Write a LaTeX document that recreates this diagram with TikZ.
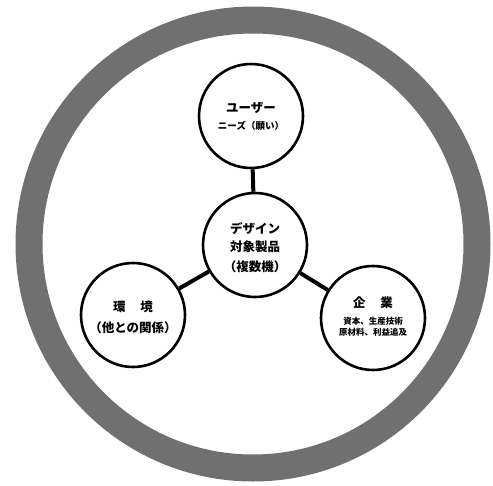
\documentclass[tikz,border=0pt]{standalone}
\usepackage{fontspec}
\newfontfamily\jpfont{Noto Sans CJK JP}
\usetikzlibrary{positioning}

\begin{document}
\begin{tikzpicture}[
    font=\jpfont\bfseries,
    vring/.style   = {draw=black!56, line width=27pt},
    vnode/.style   = {circle, draw=black, line width=2.6pt, fill=white,
                      minimum size=104pt, inner sep=0pt, align=center},
    vlink/.style   = {line width=4pt, draw=black},
    vbig/.style    = {font=\jpfont\bfseries\fontsize{12.5}{18}\selectfont},
    vsmall/.style  = {font=\jpfont\bfseries\fontsize{9.5}{13}\selectfont},
    vtiny/.style   = {font=\jpfont\bfseries\fontsize{8.5}{11}\selectfont},
  ]

  \useasboundingbox (0pt,0pt) rectangle (493pt,-485pt);

  \node[draw=none, inner sep=0pt] (mid) at (253pt,-244pt) {};
  \draw[vring] (mid) circle[radius=224pt];

  \node[vnode] (prod) at (255pt,-245pt) {};
  \node[vnode] (user) at (251pt,-116pt) {};
  \node[vnode] (env)  at (133pt,-315pt) {};
  \node[vnode] (corp) at (373pt,-318pt) {};

  \draw[vlink] (prod) -- (user);
  \draw[vlink] (prod) -- (env);
  \draw[vlink] (prod) -- (corp);

  % labels
  \node[vbig] (userA) at (251pt,-108pt) {ユーザー};
  \node[vsmall] (userB) at (251pt,-126pt) {ニーズ（願い）};
  \node[vbig, align=center] (prodA) at (255pt,-238pt) {デザイン\\対象製品};
  \node[vbig] (prodB) at (255pt,-267pt) {（複数機）};
  \node[vbig] (envA) at (133pt,-307pt) {環\hspace{1.2em}境};
  \node[vbig] (envB) at (133pt,-328pt) {（他との関係）};
  \node[vbig] (corpA) at (373pt,-303pt) {企\hspace{1.2em}業};
  \node[vtiny, align=center] (corpB) at (373pt,-327pt)
    {資本、生産技術\\原材料、利益追及};

\end{tikzpicture}
\end{document}
